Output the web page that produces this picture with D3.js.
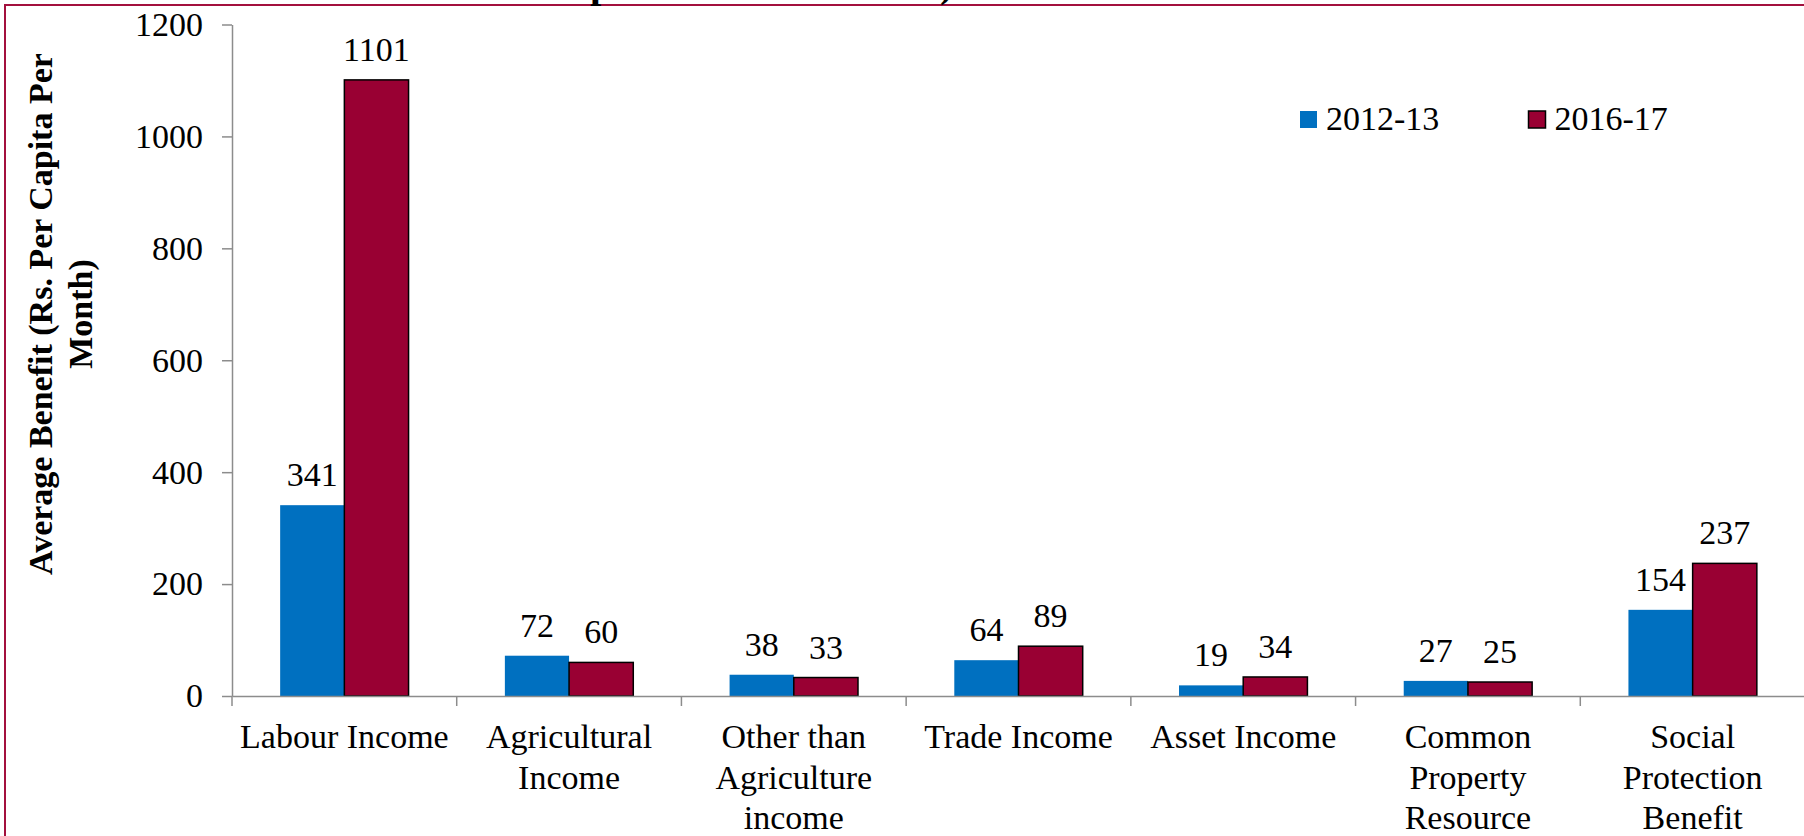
<!DOCTYPE html>
<html>
<head>
<meta charset="utf-8">
<script src="https://cdn.jsdelivr.net/npm/d3@7"></script>
<style>
  html, body { margin: 0; padding: 0; background: #ffffff; }
  svg { display: block; }
</style>
</head>
<body>
<svg id="chart" width="1804" height="836"></svg>
<script>
// Average benefit by income source, two survey rounds
const categories = [
  "Labour Income", "Agricultural Income", "Other than Agriculture income",
  "Trade Income", "Asset Income", "Common Property Resource", "Social Protection Benefit"
];
const categoryLines = [
  ["Labour Income"], ["Agricultural", "Income"], ["Other than", "Agriculture", "income"],
  ["Trade Income"], ["Asset Income"], ["Common", "Property", "Resource"],
  ["Social", "Protection", "Benefit"]
];
const seriesNames = ["2012-13", "2016-17"];
const values2012 = [341, 72, 38, 64, 19, 27, 154];
const values2016 = [1101, 60, 33, 89, 34, 25, 237];
const yTicks = [0, 200, 400, 600, 800, 1000, 1200];
const yTitleLines = ["Average Benefit (Rs. Per Capita Per", "Month)"];

const colors = { "2012-13": "#0070C0", "2016-17": "#990033" };
const axisColor = "#8c8c8c";
const serif = "'Liberation Serif', 'Times New Roman', serif";

const svg = d3.select("#chart");

// frame around the figure
svg.append("rect")
  .attr("x", 5).attr("y", 5).attr("width", 1900).attr("height", 900)
  .attr("fill", "none").attr("stroke", "#a3103d").attr("stroke-width", 2);

// title (runs off the top of the frame)
const titleG = svg.append("g");
titleG.selectAll("text")
  .data([{ x: 590, t: "p" }, { x: 940, t: ")" }]).join("text")
  .attr("x", d => d.x).attr("y", -3)
  .style("font-family", serif).style("font-weight", "bold").style("font-size", "40px")
  .style("fill", "#000")
  .text(d => d.t);

const plot = { left: 232, right: 1805, top: 24.5, bottom: 696 };

const y = d3.scaleLinear().domain([0, 1200]).range([plot.bottom, plot.top]);
const x0 = d3.scaleBand().domain(categories).range([plot.left, plot.right]).padding(0);
const x1 = d3.scaleBand().domain(seriesNames).range([0, x0.bandwidth()])
  .paddingInner(0).paddingOuter(0.75);

const rows = categories.map((c, i) => ({
  category: c,
  lines: categoryLines[i],
  values: [
    { series: seriesNames[0], value: values2012[i] },
    { series: seriesNames[1], value: values2016[i] }
  ]
}));

// bars
const groups = svg.append("g").selectAll("g")
  .data(rows).join("g")
  .attr("transform", d => `translate(${x0(d.category)},0)`);

groups.selectAll("rect")
  .data(d => d.values).join("rect")
  .attr("x", d => x1(d.series))
  .attr("y", d => y(d.value))
  .attr("width", x1.bandwidth())
  .attr("height", d => y(0) - y(d.value))
  .attr("fill", d => colors[d.series])
  .attr("stroke", d => d.series === "2016-17" ? "#000" : "none")
  .attr("stroke-width", 1.5);

// y axis
const yAxis = svg.append("g")
  .attr("transform", `translate(${plot.left},0)`)
  .call(d3.axisLeft(y).tickValues(yTicks).tickFormat(d3.format("d"))
    .tickSize(10).tickSizeOuter(0).tickPadding(19));
yAxis.select(".domain").attr("stroke", axisColor).attr("stroke-width", 1.5);
yAxis.selectAll(".tick line").attr("stroke", axisColor).attr("stroke-width", 1.5);
yAxis.selectAll(".tick text")
  .style("font-family", serif).style("font-size", "34px").style("fill", "#000");

// x axis: baseline, boundary ticks between categories, wrapped labels
const xAxis = svg.append("g")
  .attr("transform", `translate(0,${plot.bottom})`)
  .call(d3.axisBottom(x0).tickSize(0).tickSizeOuter(0).tickFormat(""));
xAxis.select(".domain").attr("stroke", axisColor).attr("stroke-width", 1.5);
xAxis.selectAll(".tick").remove();

const boundaries = categories.map(c => x0(c)).concat([x0.range()[1]]);
xAxis.selectAll("line.boundary")
  .data(boundaries).join("line")
  .attr("class", "boundary")
  .attr("x1", d => d).attr("x2", d => d)
  .attr("y1", 0).attr("y2", 10)
  .attr("stroke", axisColor).attr("stroke-width", 1.5);

const catLabels = svg.append("g").selectAll("text")
  .data(rows).join("text")
  .attr("text-anchor", "middle")
  .style("font-family", serif).style("font-size", "34px").style("fill", "#000")
  .attr("transform", d => `translate(${x0(d.category) + x0.bandwidth() / 2},748)`);
catLabels.selectAll("tspan")
  .data(d => d.lines).join("tspan")
  .attr("x", 0)
  .attr("y", (d, i) => i * 40.5)
  .text(d => d);

// value labels over each bar
groups.selectAll("text.value")
  .data(d => d.values).join("text")
  .attr("class", "value")
  .attr("x", d => x1(d.series) + x1.bandwidth() / 2)
  .attr("y", d => y(d.value) - 19)
  .attr("text-anchor", "middle")
  .style("font-family", serif).style("font-size", "34px").style("fill", "#000")
  .text(d => d.value);

// y axis title
const yTitle = svg.append("text")
  .attr("text-anchor", "middle")
  .style("font-family", serif).style("font-size", "34px").style("font-weight", "bold")
  .style("fill", "#000")
  .attr("transform", "translate(52,314) rotate(-90)");
yTitle.selectAll("tspan")
  .data(yTitleLines).join("tspan")
  .attr("x", 0).attr("y", (d, i) => i * 40)
  .text(d => d);

// legend
const legend = svg.append("g").attr("transform", "translate(1300,111)");
const items = legend.selectAll("g")
  .data(seriesNames).join("g")
  .attr("transform", (d, i) => `translate(${i * 228.5},0)`);
items.append("rect")
  .attr("width", 17).attr("height", 17)
  .attr("fill", d => colors[d])
  .attr("stroke", d => d === "2016-17" ? "#000" : "none")
  .attr("stroke-width", 1.5);
items.append("text")
  .attr("x", 26).attr("y", 18.5)
  .style("font-family", serif).style("font-size", "34px").style("fill", "#000")
  .text(d => d);
</script>
</body>
</html>
